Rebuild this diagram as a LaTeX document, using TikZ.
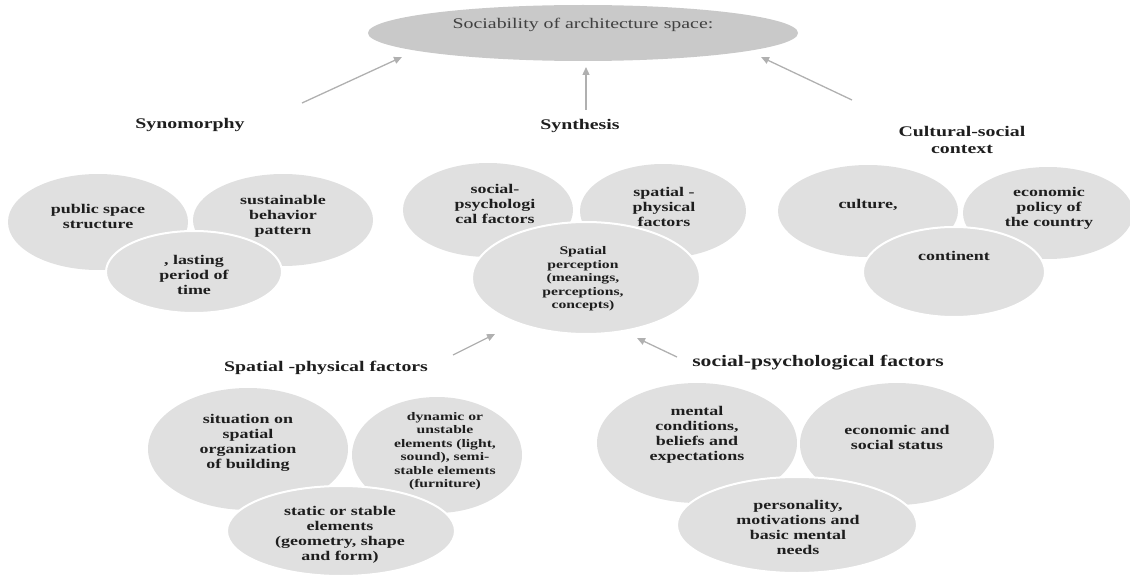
\documentclass[tikz,border=0pt]{standalone}
\usepackage{fontspec}
\setmainfont{Liberation Serif}[FakeStretch=1.35]
\usetikzlibrary{shapes.geometric,arrows.meta}
\definecolor{topfill}{HTML}{C9C9C9}
\definecolor{bubfill}{HTML}{E0E0E0}
\definecolor{arrowgray}{HTML}{B0B0B0}
\definecolor{txt}{HTML}{1E1E1E}
\begin{document}
\begin{tikzpicture}[x=1pt,y=-1pt,
 bub/.style={ellipse, fill=bubfill, inner sep=0pt},
 front/.style={bub, draw=white, line width=2pt},
 btxt/.style={align=center, text=txt, font=\bfseries\fontsize{13.3}{15}\selectfont, inner sep=0pt},
 stxt/.style={align=center, text=txt, font=\bfseries\fontsize{11.6}{13.5}\selectfont, inner sep=0pt},
 head/.style={align=center, text=txt, font=\bfseries\fontsize{14.7}{17}\selectfont, inner sep=0pt},
 arr/.style={draw=arrowgray, line width=1.3pt, -{Triangle[length=8pt,width=7pt]}}
]
\useasboundingbox (0,0) rectangle (1130,575);

% top ellipse
\node[ellipse, fill=topfill, minimum width=430pt, minimum height=56pt, inner sep=0pt] (top) at (583,33) {};
\node[text=txt!85, font=\fontsize{14.7}{17}\selectfont, inner sep=0pt] (toptxt) at (583,25) {Sociability of architecture space:};

% top arrows
\coordinate (a1s) at (302,103); \coordinate (a1t) at (402,57);
\coordinate (a2s) at (586,110); \coordinate (a2t) at (586,67);
\coordinate (a3s) at (852,100); \coordinate (a3t) at (761,57);
\draw[arr] (a1s) -- (a1t);
\draw[arr] (a2s) -- (a2t);
\draw[arr] (a3s) -- (a3t);

% headings
\node[head] (hsyn) at (190,125) {Synomorphy};
\node[head] (hsynth) at (580,126) {Synthesis};
\node[head] (hcult) at (962,140) {Cultural-social\\context};
\node[head] (hspat) at (326,368) {Spatial -physical factors};
\node[head, font=\bfseries\fontsize{16}{18}\selectfont] (hsoc) at (818,363) {social-psychological factors};

% left cluster
\node[bub, minimum width=180pt, minimum height=96pt] (L1) at (98,222) {};
\node[bub, minimum width=180pt, minimum height=92pt] (L2) at (283,220) {};
\node[front, minimum width=176pt, minimum height=82pt] (L3) at (194,272) {};
\node[btxt] (L1t) at (98,216) {public space\\structure};
\node[btxt] (L2t) at (283,216) {sustainable\\behavior\\pattern};
\node[btxt] (L3t) at (194,275) {, lasting\\period of\\time};

% middle cluster
\node[bub, minimum width=170pt, minimum height=94pt] (M1) at (488,210) {};
\node[bub, minimum width=166pt, minimum height=94pt] (M2) at (663,211) {};
\node[front, minimum width=228pt, minimum height=112pt] (M3) at (586,278) {};
\node[btxt] (M1t) at (495,204) {social-\\psychologi\\cal factors};
\node[btxt] (M2t) at (664,207) {spatial -\\physical\\factors};
\node[stxt] (M3t) at (583,279) {Spatial\\perception\\(meanings,\\perceptions,\\concepts)};

% right cluster
\node[bub, minimum width=180pt, minimum height=92pt] (R1) at (868,211) {};
\node[bub, minimum width=170pt, minimum height=92pt] (R2) at (1048,213) {};
\node[front, minimum width=182pt, minimum height=90pt] (R3) at (954,272) {};
\node[btxt] (R1t) at (868,205) {culture,};
\node[btxt] (R2t) at (1049,208) {economic\\policy of\\the country};
\node[btxt] (R3t) at (954,256) {continent};

% arrows to spatial perception
\coordinate (b1s) at (453,355); \coordinate (b1t) at (495,334);
\coordinate (b2s) at (677,357); \coordinate (b2t) at (637,338);
\draw[arr] (b1s) -- (b1t);
\draw[arr] (b2s) -- (b2t);

% bottom-left cluster
\node[bub, minimum width=200pt, minimum height=122pt] (B1) at (248,449) {};
\node[bub, minimum width=170pt, minimum height=116pt] (B2) at (437,455) {};
\node[front, minimum width=228pt, minimum height=90pt] (B3) at (341,531) {};
\node[btxt] (B1t) at (248,443) {situation on\\spatial\\organization\\of building};
\node[stxt] (B2t) at (445,451) {dynamic or\\unstable\\elements (light,\\sound), semi-\\stable elements\\(furniture)};
\node[btxt] (B3t) at (340,535) {static or stable\\elements\\(geometry, shape\\and form)};

% bottom-right cluster
\node[bub, minimum width=200pt, minimum height=120pt] (C1) at (697,443) {};
\node[bub, minimum width=194pt, minimum height=122pt] (C2) at (897,444) {};
\node[front, minimum width=240pt, minimum height=96pt] (C3) at (797,525) {};
\node[btxt] (C1t) at (697,435) {mental\\conditions,\\beliefs and\\expectations};
\node[btxt] (C2t) at (897,437) {economic and\\social status};
\node[btxt] (C3t) at (798,527) {personality,\\motivations and\\basic mental\\needs};
\end{tikzpicture}
\end{document}
